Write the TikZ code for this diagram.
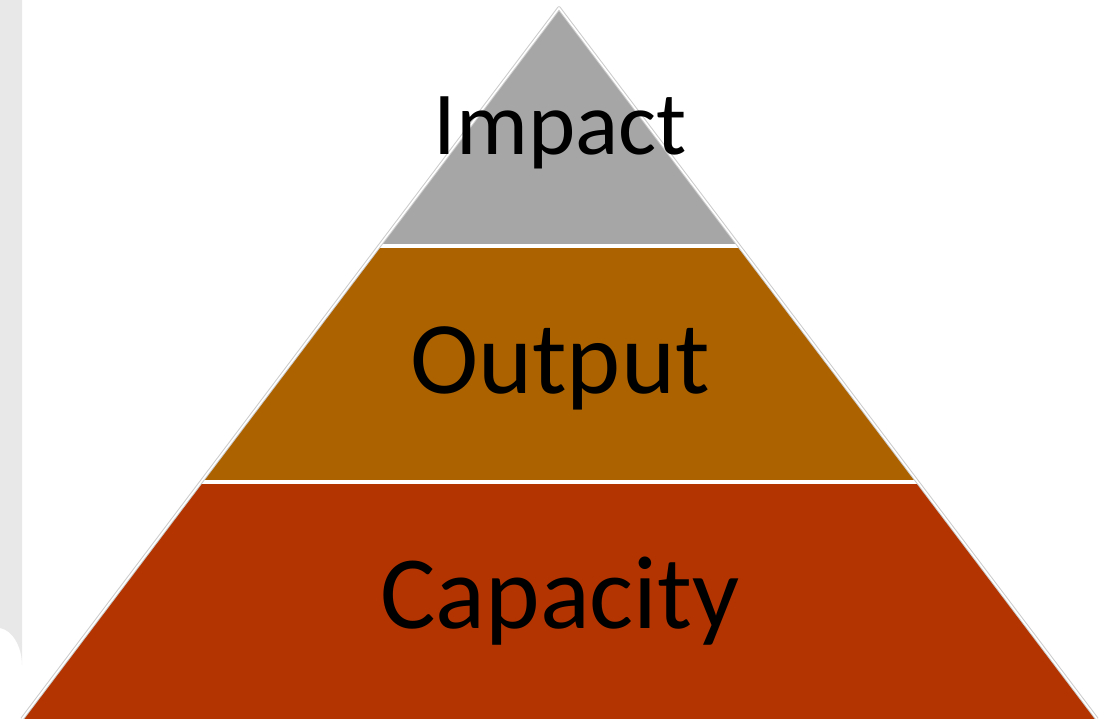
\documentclass[tikz,border=0pt]{standalone}
\usepackage{fontspec}
\setmainfont{Carlito}
\definecolor{stripgray}{HTML}{E8E8E8}
\definecolor{impactgray}{HTML}{A6A6A6}
\definecolor{outputorange}{HTML}{AD6200}
\definecolor{capacityred}{HTML}{B33400}
\definecolor{edgegray}{HTML}{CCCCCC}
\begin{document}
\begin{tikzpicture}[x=1pt,y=-1pt,
  tierlabel/.style={text=black, inner sep=0pt, anchor=base},
  separator/.style={white, line width=4pt},
  outline/.style={draw=edgegray, line width=1pt, double=white, double distance=1.6pt, line join=round}]
\useasboundingbox (0,0) rectangle (1109,719);
\fill[white] (0,0) rectangle (1109,719);
% left gray strip
\fill[stripgray] (0,0) -- (22,0) -- (22,665) .. controls (22,646) and (12,630) .. (0,628) -- cycle;
% coordinates
\coordinate (apex) at (559,8);
\coordinate (bl) at (22,719);
\coordinate (br) at (1097,719);
\coordinate (l1) at (379,246);
\coordinate (r1) at (739,246);
\coordinate (l2) at (201,482);
\coordinate (r2) at (917,482);
% tiers
\fill[impactgray] (apex) -- (r1) -- (l1) -- cycle;
\fill[outputorange] (l1) -- (r1) -- (r2) -- (l2) -- cycle;
\fill[capacityred] (l2) -- (r2) -- (br) -- (bl) -- cycle;
\draw[separator] (l1) -- (r1);
\draw[separator] (l2) -- (r2);
\draw[outline] (bl) -- (apex) -- (br);
% labels
\node[tierlabel, font=\fontsize{90}{90}\selectfont] (impact) at (560,155) {Impact};
\node[tierlabel, font=\fontsize{103}{103}\selectfont] (output) at (560,393) {Output};
\node[tierlabel, font=\fontsize{104}{104}\selectfont] (capacity) at (560,628) {Capacity};
\end{tikzpicture}
\end{document}
